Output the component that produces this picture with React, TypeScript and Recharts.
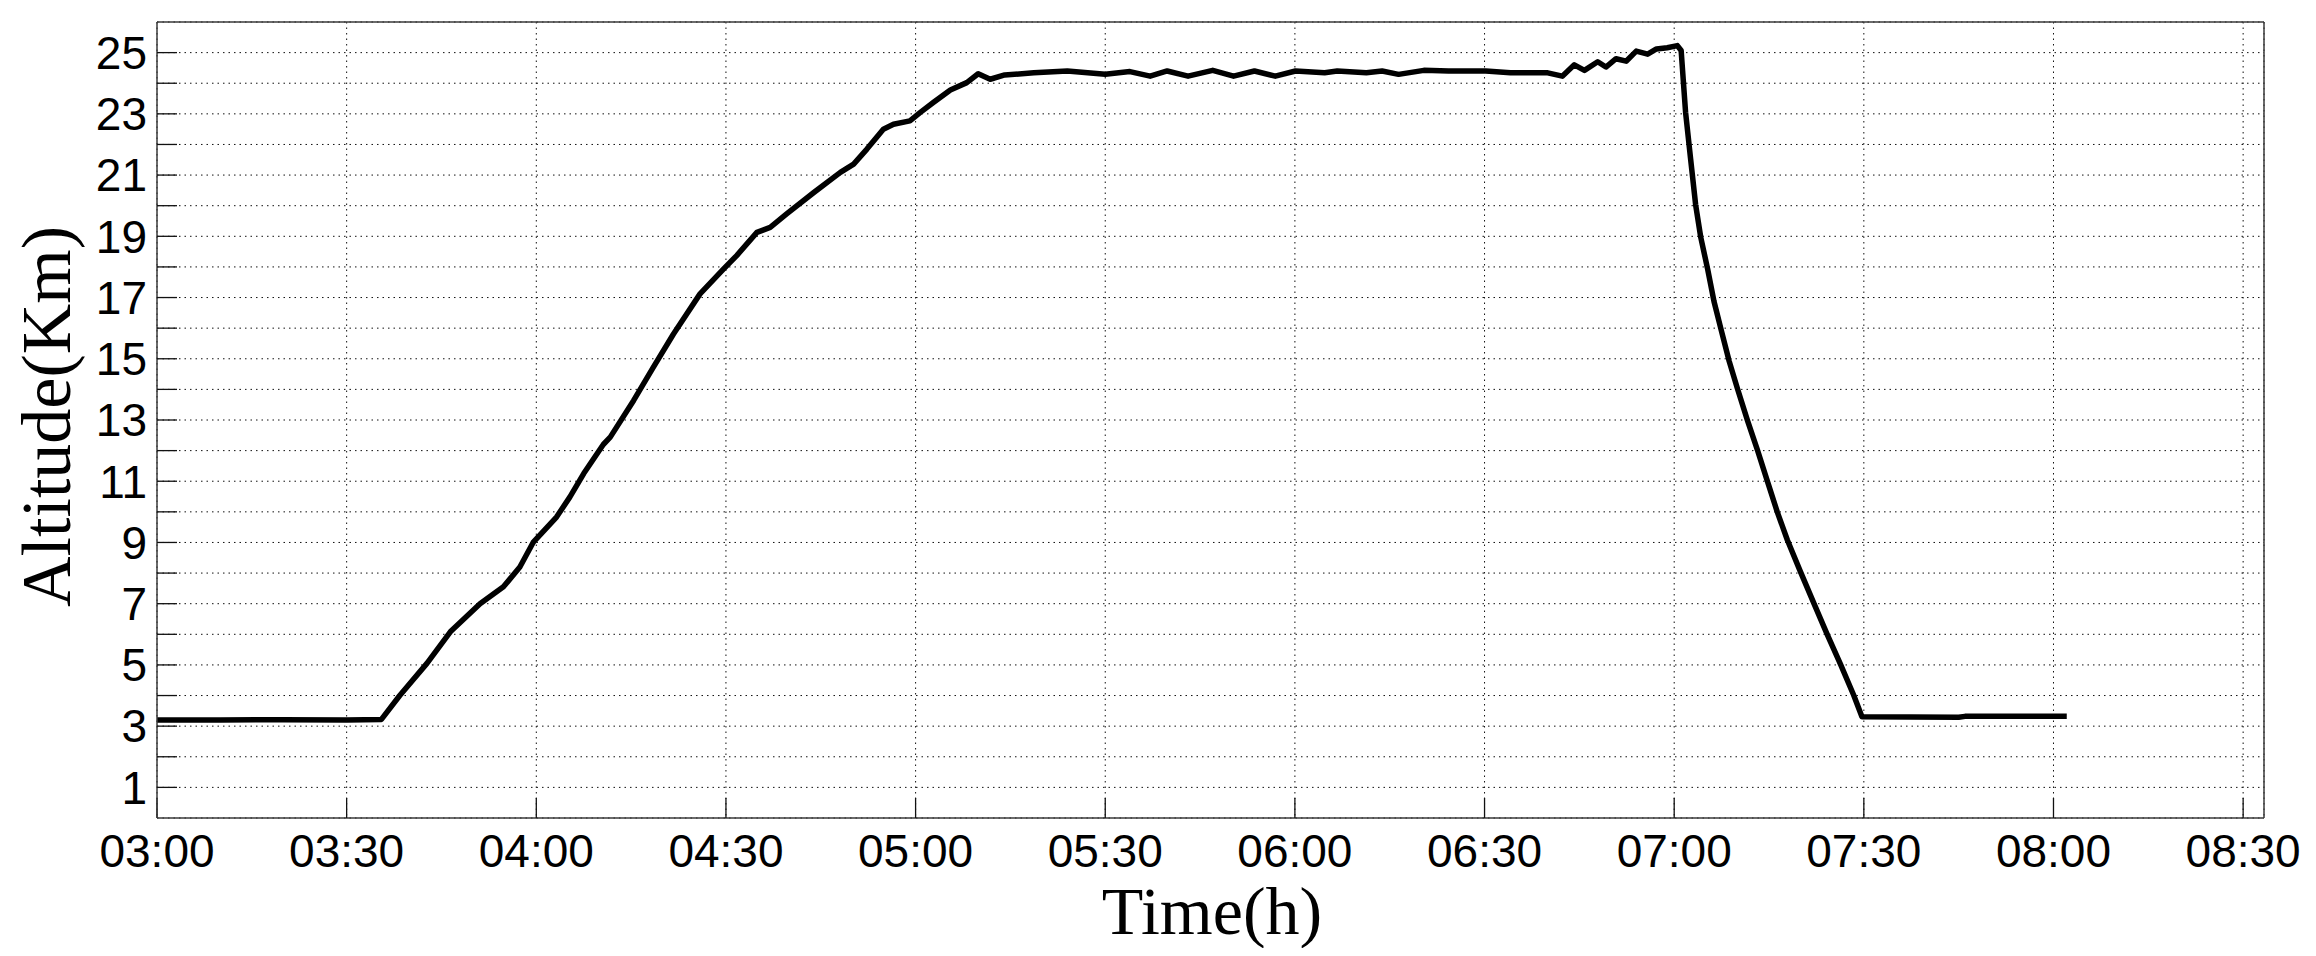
import { LineChart, Line, XAxis, YAxis, CartesianGrid } from "recharts";

// time in minutes after midnight, altitude in km
const timeMin = [
  180, 190, 200, 210, 215.5, 218.4, 222.7, 226.4, 231.1, 234.8, 237.4, 239.5,
  243.2, 245.3, 247.5, 250.6, 251.7, 255.4, 258.5, 261.7, 265.9, 269.6, 271.7,
  274.9, 277.0, 279.6, 283.9, 288.1, 290.2, 292.3, 294.9, 296.5, 299.1, 300.7,
  302.8, 305.5, 308.1, 309.9, 311.8, 314.1, 318.7, 324, 330, 333.9, 337.1,
  339.8, 343.1, 347, 350.3, 353.6, 356.9, 360.1, 364.7, 366.7, 371.3, 373.8,
  376.4, 380.4, 384.3, 390.2, 394.1, 400, 402.3, 404.2, 405.8, 407.9, 409.2,
  410.8, 412.4, 414, 415.8, 417.2, 418.9, 420.5, 421.1, 421.8, 422.6, 423.4,
  424.2, 425.3, 426.3, 427.4, 428.7, 430, 431.6, 433.2, 434.7, 436.3, 437.9,
  440, 442.1, 444.2, 446.3, 448.4, 449.7, 465, 466, 482.1,
];
const altitudeKm = [
  3.2, 3.2, 3.21, 3.2, 3.22, 4.0, 5.05, 6.08, 7.0, 7.55, 8.2, 9.0,
  9.83, 10.48, 11.25, 12.2, 12.44, 13.64, 14.72, 15.81, 17.12, 17.93, 18.37,
  19.13, 19.29, 19.73, 20.43, 21.09, 21.36, 21.85, 22.5, 22.66, 22.77, 23.04,
  23.37, 23.78, 24.02, 24.31, 24.13, 24.27, 24.34, 24.4, 24.29, 24.38, 24.23,
  24.4, 24.23, 24.42, 24.23, 24.4, 24.23, 24.4, 24.34, 24.4, 24.34, 24.4,
  24.29, 24.42, 24.4, 24.4, 24.34, 24.34, 24.23, 24.6, 24.42, 24.7, 24.53,
  24.8, 24.72, 25.05, 24.95, 25.12, 25.16, 25.23, 25.07, 23.05, 21.52, 20.02,
  18.97, 17.92, 16.87, 15.97, 14.92, 14.03, 12.98, 12.0, 11.03, 10.0, 9.08,
  8.03, 7.01, 6.0, 5.03, 4.01, 3.31, 3.29, 3.32, 3.32,
];

const xTicks = [180, 210, 240, 270, 300, 330, 360, 390, 420, 450, 480, 510];
const yTicks = [1, 2, 3, 4, 5, 6, 7, 8, 9, 10, 11, 12, 13, 14, 15, 16, 17, 18, 19, 20, 21, 22, 23, 24, 25];

const W = 2300;
const H = 940;
const sans = "'Liberation Sans', Arial, sans-serif";
const serif = "'Liberation Serif', 'Times New Roman', serif";

const fmtTime = (m: number) => {
  const h = Math.floor(m / 60);
  const mm = m % 60;
  return `${String(h).padStart(2, "0")}:${String(mm).padStart(2, "0")}`;
};

export default function App() {
  const data = timeMin.map((t, i) => ({ t, alt: altitudeKm[i] }));
  const axisLine = { stroke: "#3a3a3a", strokeWidth: 1.5 };
  const tickLine = { stroke: "#111", strokeWidth: 1.3 };
  const tickFont = { fontSize: 46, fill: "#000", fontFamily: sans };

  return (
    <div style={{ width: W, height: H, background: "#fff" }}>
      <LineChart width={W} height={H} data={data} margin={{ top: 0, right: 0, bottom: 0, left: 0 }}>
        <CartesianGrid stroke="#111" strokeWidth={1} strokeDasharray="1.5 4" />
        <XAxis
          dataKey="t"
          type="number"
          domain={[180, 513.3]}
          ticks={xTicks}
          height={130}
          tickSize={-20}
          tickMargin={36}
          axisLine={axisLine}
          tickLine={tickLine}
          tick={tickFont}
          tickFormatter={fmtTime}
          interval={0}
        />
        <XAxis
          xAxisId="top"
          orientation="top"
          dataKey="t"
          type="number"
          domain={[180, 513.3]}
          ticks={xTicks}
          height={14}
          tickSize={-20}
          axisLine={axisLine}
          tickLine={tickLine}
          tick={false}
        />
        <YAxis
          type="number"
          domain={[0, 26]}
          ticks={yTicks}
          width={149}
          tickSize={-20}
          tickMargin={30}
          axisLine={axisLine}
          tickLine={tickLine}
          tick={tickFont}
          tickFormatter={(v: number) => (v % 2 === 1 ? String(v) : "")}
          interval={0}
        />
        <YAxis
          yAxisId="right"
          orientation="right"
          type="number"
          domain={[0, 26]}
          ticks={yTicks}
          width={44}
          tickSize={-20}
          axisLine={axisLine}
          tickLine={tickLine}
          tick={false}
        />
        <Line
          type="linear"
          dataKey="alt"
          stroke="#000"
          strokeWidth={5.5}
          dot={false}
          strokeLinejoin="round"
          isAnimationActive={false}
        />
        <text x={1204} y={926} textAnchor="middle" fontSize={68} fontFamily={serif} fill="#000">
          Time(h)
        </text>
        <text
          x={62}
          y={408.5}
          transform="rotate(-90 62 408.5)"
          textAnchor="middle"
          fontSize={70}
          fontFamily={serif}
          fill="#000"
        >
          Altitude(Km)
        </text>
      </LineChart>
    </div>
  );
}
